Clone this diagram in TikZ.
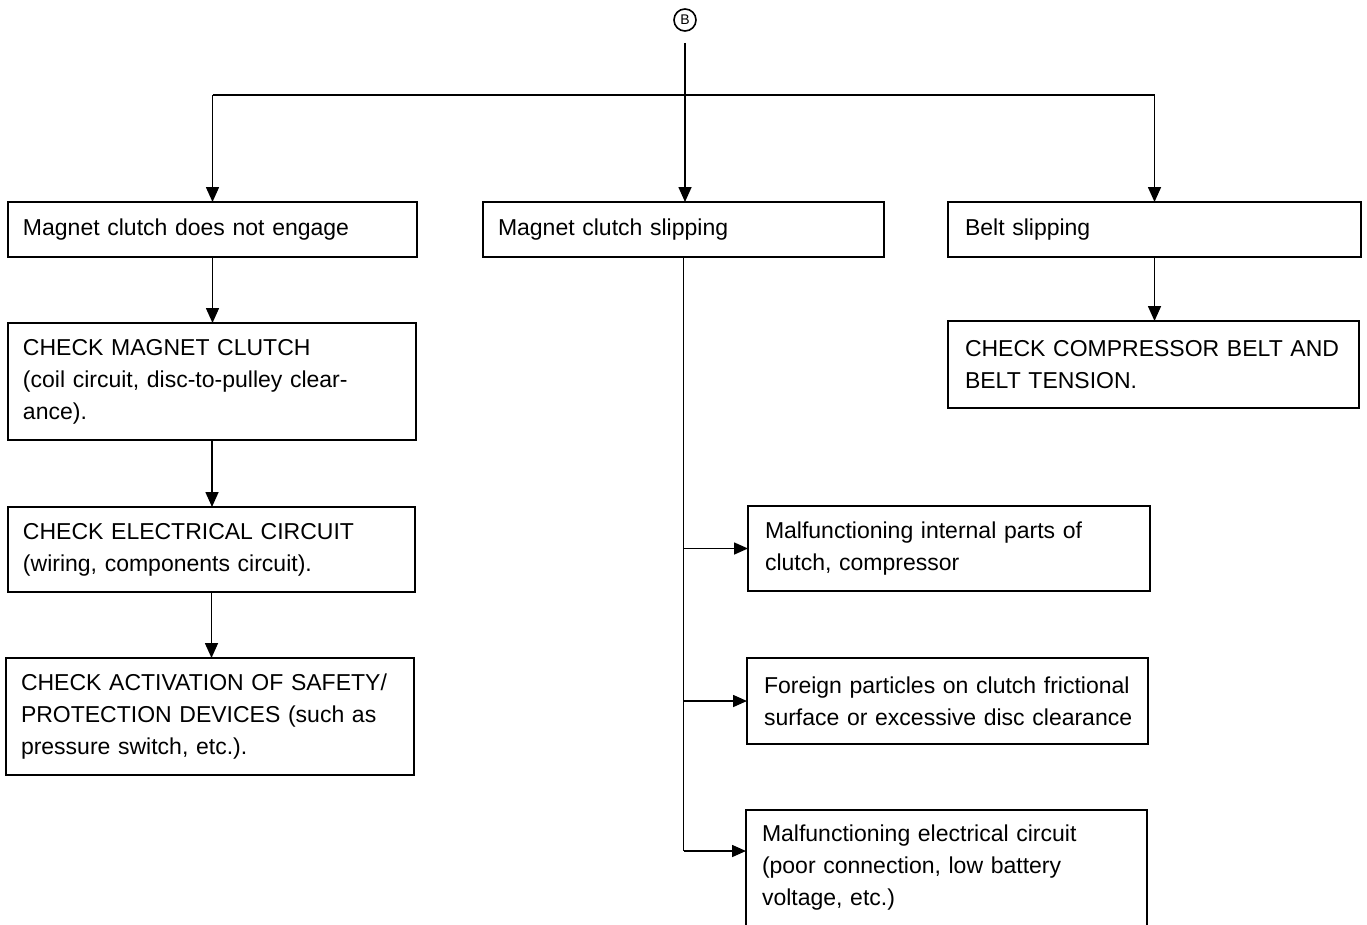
\documentclass[tikz,border=0pt]{standalone}
\usepackage{fontspec}
\setmainfont{Liberation Sans}
\usetikzlibrary{arrows.meta,calc}
\tikzset{
  box/.style={draw, line width=1.8pt, rectangle, anchor=north west, align=left,
    inner xsep=15pt, inner ysep=0pt, outer sep=0pt,
    font=\fontsize{23}{32}\selectfont},
  link/.style={line width=1.6pt},
  arr/.style={line width=1.6pt, -{Triangle[length=15pt,width=13pt]}},
  harr/.style={line width=1.6pt, -{Triangle[length=14pt,width=12pt]}},
}
\newcommand{\bx}[6]{%
  \node[box, minimum width=#4pt, minimum height=#5pt, text width=#4pt-30pt] (#1) at (#2,#3) {#6};}
\begin{document}
\begin{tikzpicture}[x=1pt,y=-1pt]
\useasboundingbox (0,0) rectangle (1367,924);
\node[draw, circle, line width=1.6pt, inner sep=0pt, minimum size=22pt,
  font=\fontsize{14}{14}\selectfont] (cB) at (685,20) {B};
\coordinate (jy) at (0,95);
\coordinate (cBs) at ($(cB.south)+(0,11)$);

\bx{b1}{8}{202}{409}{55}{Magnet clutch does not engage}
\bx{b2}{483}{202}{401}{55}{Magnet clutch slipping}
\bx{b3}{948}{202}{413}{55}{\hspace*{2pt}Belt slipping}
\bx{c1}{8}{323}{408}{117}{CHECK MAGNET CLUTCH\\(coil circuit, disc-to-pulley clear-\\ance).}
\bx{c2}{8}{507}{407}{85}{CHECK ELECTRICAL CIRCUIT\\(wiring, components circuit).}
\bx{c3}{6}{658}{408}{117}{CHECK ACTIVATION OF SAFETY/\\PROTECTION DEVICES (such as\\pressure switch, etc.).}
\bx{r1}{948}{321}{411}{87}{\hspace*{2pt}CHECK COMPRESSOR BELT AND\\\hspace*{2pt}BELT TENSION.}
\bx{m1}{748}{506}{402}{85}{\hspace*{2pt}Malfunctioning internal parts of\\\hspace*{2pt}clutch, compressor}
\bx{m2}{747}{658}{401}{86}{\hspace*{2pt}Foreign particles on clutch frictional\\\hspace*{2pt}surface or excessive disc clearance}
\bx{m3}{746}{810}{401}{116}{\hspace*{1pt}Malfunctioning electrical circuit\\\hspace*{1pt}(poor connection, low battery\\\hspace*{1pt}voltage, etc.)}

\draw[arr] (cBs) -- (cBs |- b2.north);
\draw[link] (b1.north |- jy) -- (b3.north |- jy);
\draw[arr] (b1.north |- jy) -- (b1.north);
\draw[arr] (b3.north |- jy) -- (b3.north);

\draw[arr] (b1.south) -- (b1.south |- c1.north);
\draw[arr] (c1.south) -- (c1.south |- c2.north);
\draw[arr] (c2.south) -- (c2.south |- c3.north);
\draw[arr] (b3.south) -- (b3.south |- r1.north);

\coordinate (m3in) at ($(m3.north west)+(0,41)$);
\draw[link] (b2.south) -- (b2.south |- m3in);
\draw[harr] (b2.south |- m1.west) -- (m1.west);
\draw[harr] (b2.south |- m2.west) -- (m2.west);
\draw[harr] (b2.south |- m3in) -- (m3in);
\end{tikzpicture}
\end{document}
